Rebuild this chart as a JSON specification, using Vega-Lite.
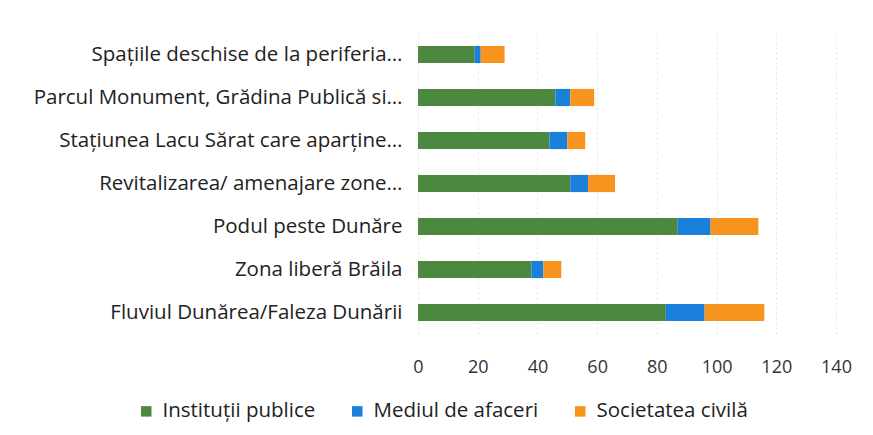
{
  "$schema": "https://vega.github.io/schema/vega-lite/v6.json",
  "width": 418,
  "height": 301,
  "autosize": {"type": "none"},
  "padding": {"left": 418, "top": 33, "right": 37, "bottom": 101},
  "background": "white",
  "data": {
    "values": [
      {"cat": "Spațiile deschise de la periferia…", "series": "Instituții publice", "ord": 1, "v": 19},
      {"cat": "Spațiile deschise de la periferia…", "series": "Mediul de afaceri", "ord": 2, "v": 2},
      {"cat": "Spațiile deschise de la periferia…", "series": "Societatea civilă", "ord": 3, "v": 8},
      {"cat": "Parcul Monument, Grădina Publică si…", "series": "Instituții publice", "ord": 1, "v": 46},
      {"cat": "Parcul Monument, Grădina Publică si…", "series": "Mediul de afaceri", "ord": 2, "v": 5},
      {"cat": "Parcul Monument, Grădina Publică si…", "series": "Societatea civilă", "ord": 3, "v": 8},
      {"cat": "Stațiunea Lacu Sărat care aparține…", "series": "Instituții publice", "ord": 1, "v": 44},
      {"cat": "Stațiunea Lacu Sărat care aparține…", "series": "Mediul de afaceri", "ord": 2, "v": 6},
      {"cat": "Stațiunea Lacu Sărat care aparține…", "series": "Societatea civilă", "ord": 3, "v": 6},
      {"cat": "Revitalizarea/ amenajare zone…", "series": "Instituții publice", "ord": 1, "v": 51},
      {"cat": "Revitalizarea/ amenajare zone…", "series": "Mediul de afaceri", "ord": 2, "v": 6},
      {"cat": "Revitalizarea/ amenajare zone…", "series": "Societatea civilă", "ord": 3, "v": 9},
      {"cat": "Podul peste Dunăre", "series": "Instituții publice", "ord": 1, "v": 87},
      {"cat": "Podul peste Dunăre", "series": "Mediul de afaceri", "ord": 2, "v": 11},
      {"cat": "Podul peste Dunăre", "series": "Societatea civilă", "ord": 3, "v": 16},
      {"cat": "Zona liberă Brăila", "series": "Instituții publice", "ord": 1, "v": 38},
      {"cat": "Zona liberă Brăila", "series": "Mediul de afaceri", "ord": 2, "v": 4},
      {"cat": "Zona liberă Brăila", "series": "Societatea civilă", "ord": 3, "v": 6},
      {"cat": "Fluviul Dunărea/Faleza Dunării", "series": "Instituții publice", "ord": 1, "v": 83},
      {"cat": "Fluviul Dunărea/Faleza Dunării", "series": "Mediul de afaceri", "ord": 2, "v": 13},
      {"cat": "Fluviul Dunărea/Faleza Dunării", "series": "Societatea civilă", "ord": 3, "v": 20}
    ]
  },
  "mark": {"type": "bar"},
  "encoding": {
    "y": {
      "field": "cat", "type": "nominal", "sort": null,
      "scale": {"paddingInner": 0.6, "paddingOuter": 0.3},
      "axis": {"title": null, "domain": false, "ticks": false, "labelPadding": 16, "labelFontSize": 20.5, "labelFont": "Open Sans", "labelColor": "#222", "labelLimit": 420}
    },
    "x": {
      "field": "v", "type": "quantitative", "aggregate": "sum", "stack": "zero",
      "scale": {"domain": [0, 140]},
      "axis": {"title": null, "values": [0,20,40,60,80,100,120,140], "domain": false, "ticks": false, "labelPadding": 24, "labelFontSize": 18, "labelFont": "Open Sans", "labelColor": "#333", "grid": true, "gridColor": "#e2e2e2", "gridDash": [2, 3], "labelFlush": false}
    },
    "order": {"field": "ord", "type": "quantitative"},
    "color": {
      "field": "series", "type": "nominal",
      "sort": ["Instituții publice", "Mediul de afaceri", "Societatea civilă"],
      "scale": {"domain": ["Instituții publice", "Mediul de afaceri", "Societatea civilă"], "range": ["#4d8840", "#1b7fdc", "#f7941d"]},
      "legend": {"title": null, "orient": "none", "direction": "horizontal", "legendX": -282, "legendY": 368, "symbolType": "square", "symbolSize": 110, "symbolStrokeWidth": 0, "labelFontSize": 20.5, "labelFont": "Open Sans", "labelColor": "#222", "columnPadding": 31, "labelOffset": 6, "labelLimit": 300}
    }
  },
  "config": {"view": {"stroke": null}}
}
